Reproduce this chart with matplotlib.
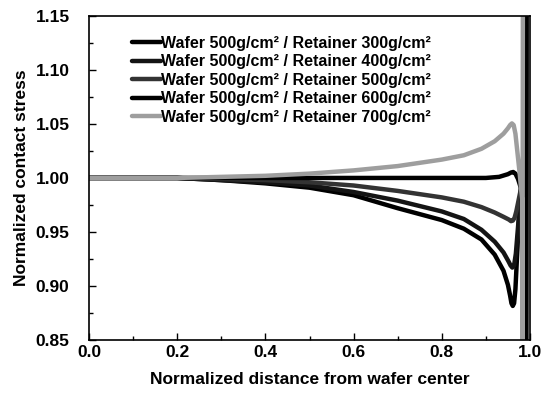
#!/usr/bin/env python3
"""Normalized contact stress along the wafer radius for several retainer pressures."""
import matplotlib
matplotlib.use("Agg")
import matplotlib.pyplot as plt
from matplotlib.ticker import MultipleLocator

plt.rcParams.update({
    "font.family": ["Liberation Sans", "DejaVu Sans"],
    "font.weight": "bold",
    "axes.linewidth": 1.2,
})

# ── data ─────────────────────────────────────────────────────────────────────
LABELS = [
    "Wafer 500g/cm² / Retainer 300g/cm²",
    "Wafer 500g/cm² / Retainer 400g/cm²",
    "Wafer 500g/cm² / Retainer 500g/cm²",
    "Wafer 500g/cm² / Retainer 600g/cm²",
    "Wafer 500g/cm² / Retainer 700g/cm²",
]

x_300 = [0.0, 0.2, 0.3, 0.4, 0.5, 0.6, 0.7, 0.8, 0.85, 0.89, 0.92, 0.94, 0.95,
         0.955, 0.958, 0.961, 0.964, 0.967, 0.971, 0.976, 0.981, 0.991, 0.992]
y_300 = [1.0, 1.0, 0.998, 0.995, 0.991, 0.984, 0.972, 0.961, 0.953, 0.943, 0.929,
         0.914, 0.901, 0.891, 0.884, 0.8815, 0.884, 0.897, 0.93, 0.97, 1.0, 0.80, 1.20]

x_400 = [0.0, 0.2, 0.3, 0.4, 0.5, 0.6, 0.7, 0.8, 0.85, 0.89, 0.92, 0.94, 0.951,
         0.956, 0.96, 0.964, 0.968, 0.973, 0.979, 0.991, 0.992]
y_400 = [1.0, 1.0, 0.998, 0.996, 0.993, 0.987, 0.979, 0.969, 0.962, 0.952, 0.941,
         0.931, 0.923, 0.919, 0.917, 0.919, 0.930, 0.955, 0.985, 0.80, 1.20]

x_500 = [0.0, 0.2, 0.3, 0.4, 0.5, 0.6, 0.7, 0.8, 0.85, 0.89, 0.92, 0.94, 0.952,
         0.957, 0.961, 0.965, 0.969, 0.974, 0.979, 0.984, 0.991, 0.992]
y_500 = [1.0, 1.0, 0.999, 0.998, 0.996, 0.993, 0.988, 0.982, 0.978, 0.973, 0.968,
         0.964, 0.9615, 0.960, 0.9605, 0.963, 0.969, 0.979, 0.989, 0.995, 0.80, 1.20]

x_600 = [0.0, 0.2, 0.4, 0.6, 0.8, 0.9, 0.93, 0.95, 0.957, 0.962, 0.967, 0.973, 0.98,
         0.991, 0.992]
y_600 = [1.0, 1.0, 1.0, 1.0, 1.0, 1.0, 1.001, 1.0035, 1.005, 1.0055, 1.004, 0.999, 0.99,
         0.80, 1.20]

x_700 = [0.0, 0.2, 0.3, 0.4, 0.5, 0.6, 0.7, 0.8, 0.85, 0.89, 0.92, 0.94, 0.95,
         0.955, 0.959, 0.963, 0.967, 0.972, 0.977, 0.982, 0.983, 0.984]
y_700 = [1.0, 1.0, 1.001, 1.002, 1.004, 1.007, 1.011, 1.017, 1.021, 1.027, 1.034,
         1.041, 1.046, 1.049, 1.0505, 1.049, 1.041, 1.022, 1.003, 0.98, 0.80, 1.20]

SERIES = [(x_300, y_300), (x_400, y_400), (x_500, y_500), (x_600, y_600), (x_700, y_700)]
COLORS = ["black", "0.08", "0.2", "black", "0.62"]


def plot(out="out.png"):
    fig = plt.figure(figsize=(5.43, 3.99), dpi=100)
    ax = fig.add_axes([0.164, 0.148, 0.812, 0.812])

    for (xs, ys), color, label in zip(SERIES, COLORS, LABELS):
        ax.plot(xs, ys, color=color, linewidth=3.2, solid_joinstyle="round",
                solid_capstyle="round", label=label)

    ax.set_xlim(0.0, 1.0)
    ax.set_ylim(0.85, 1.15)
    ax.xaxis.set_major_locator(MultipleLocator(0.2))
    ax.xaxis.set_minor_locator(MultipleLocator(0.1))
    ax.yaxis.set_major_locator(MultipleLocator(0.05))
    ax.yaxis.set_minor_locator(MultipleLocator(0.025))
    ax.xaxis.set_major_formatter(lambda v, _: f"{v:.1f}")
    ax.yaxis.set_major_formatter(lambda v, _: f"{v:.2f}")
    ax.tick_params(which="both", direction="in", top=False, right=False,
                   labelsize=12.5)
    ax.tick_params(which="major", length=5, width=1)
    ax.tick_params(which="minor", length=3, width=1)
    ax.tick_params(axis="y", which="major", pad=14)

    ax.set_xlabel("Normalized distance from wafer center", fontsize=12.5,
                  fontweight="bold", labelpad=9)
    ax.set_ylabel("Normalized contact stress", fontsize=12.5,
                  fontweight="bold", labelpad=5)

    leg = ax.legend(loc="upper left", bbox_to_anchor=(0.083, 0.958), frameon=False,
                    fontsize=11.5, handlelength=1.8, handletextpad=0.0,
                    labelspacing=0.22, borderaxespad=0.0)
    for txt in leg.get_texts():
        txt.set_fontweight("bold")

    fig.savefig(out, dpi=100)
    plt.close(fig)


if __name__ == "__main__":
    plot()
